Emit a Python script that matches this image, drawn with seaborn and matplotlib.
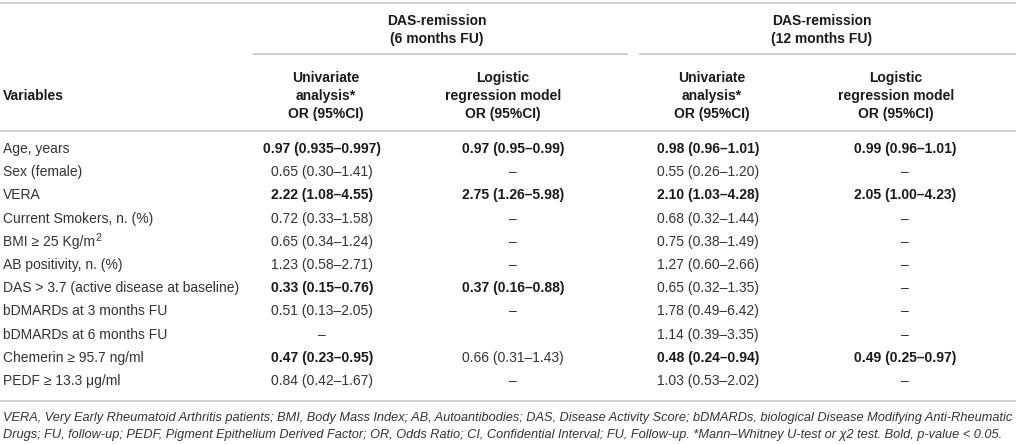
import seaborn as sns
import numpy as np
import pandas as pd
import matplotlib.pyplot as plt

# Table content
variables = ['Age, years', 'Sex (female)', 'VERA', 'Current Smokers, n. (%)',
             'BMI ≥ 25 Kg/m²', 'AB positivity, n. (%)',
             'DAS > 3.7 (active disease at baseline)', 'bDMARDs at 3 months FU',
             'bDMARDs at 6 months FU', 'Chemerin ≥ 95.7 ng/ml', 'PEDF ≥ 13.3 μg/ml']

univ_6 = ['0.97 (0.935–0.997)', '0.65 (0.30–1.41)', '2.22 (1.08–4.55)', '0.72 (0.33–1.58)',
          '0.65 (0.34–1.24)', '1.23 (0.58–2.71)', '0.33 (0.15–0.76)', '0.51 (0.13–2.05)',
          '–', '0.47 (0.23–0.95)', '0.84 (0.42–1.67)']
logit_6 = ['0.97 (0.95–0.99)', '–', '2.75 (1.26–5.98)', '–', '–', '–',
           '0.37 (0.16–0.88)', '–', '', '0.66 (0.31–1.43)', '–']
univ_12 = ['0.98 (0.96–1.01)', '0.55 (0.26–1.20)', '2.10 (1.03–4.28)', '0.68 (0.32–1.44)',
           '0.75 (0.38–1.49)', '1.27 (0.60–2.66)', '0.65 (0.32–1.35)', '1.78 (0.49–6.42)',
           '1.14 (0.39–3.35)', '0.48 (0.24–0.94)', '1.03 (0.53–2.02)']
logit_12 = ['0.99 (0.96–1.01)', '–', '2.05 (1.00–4.23)', '–', '–', '–', '–', '–', '–',
            '0.49 (0.25–0.97)', '–']

# bold = p-value < 0.05
bold_univ_6 = [1, 0, 1, 0, 0, 0, 1, 0, 0, 1, 0]
bold_logit_6 = [1, 0, 1, 0, 0, 0, 1, 0, 0, 0, 0]
bold_univ_12 = [1, 0, 1, 0, 0, 0, 0, 0, 0, 1, 0]
bold_logit_12 = [1, 0, 1, 0, 0, 0, 0, 0, 0, 1, 0]

group_titles = ['DAS-remission\n(6 months FU)', 'DAS-remission\n(12 months FU)']
col_titles = [['Univariate', 'analysis*', 'OR (95%CI)'],
              ['Logistic', 'regression model', 'OR (95%CI)'],
              ['Univariate', 'analysis*', 'OR (95%CI)'],
              ['Logistic', 'regression model', 'OR (95%CI)']]

footnote = ['VERA, Very Early Rheumatoid Arthritis patients; BMI, Body Mass Index; AB, Autoantibodies; '
            'DAS, Disease Activity Score; bDMARDs, biological Disease Modifying Anti-Rheumatic',
            'Drugs; FU, follow-up; PEDF, Pigment Epithelium Derived Factor; OR, Odds Ratio; CI, '
            'Confidential Interval; FU, Follow-up. *Mann–Whitney U-test or χ2 test. Bold, p-value < 0.05.']

df = pd.DataFrame({'Variables': variables, 'u6': univ_6, 'l6': logit_6,
                   'u12': univ_12, 'l12': logit_12})
bolds = {'u6': bold_univ_6, 'l6': bold_logit_6, 'u12': bold_univ_12, 'l12': bold_logit_12}

sns.set_theme(style='white')
plt.rcParams['font.family'] = ['Liberation Sans', 'DejaVu Sans']

fig = plt.figure(figsize=(10.16, 4.44), dpi=100)
ax = fig.add_axes([0, 0, 1, 1])
ax.set_xlim(0, 1016)
ax.set_ylim(444, 0)
ax.axis('off')

line_col = '#cccccc'
txt_col = '#333333'
bold_col = '#1a1a1a'
fs = 10

# layout (pixel coordinates)
head_x = [326, 503, 712, 896]
val_x = [322, 513, 708, 905]
row_y0, row_step = 149, 23.2

# rules
ax.hlines(3, 0, 1016, color=line_col, lw=1.3)
ax.hlines(54, 253, 628, color=line_col, lw=1.3)
ax.hlines(54, 639, 1016, color=line_col, lw=1.3)
ax.hlines(131, 0, 1016, color=line_col, lw=1.3)
ax.hlines(401, 0, 1016, color=line_col, lw=1.3)

# group headers
for gx, title in zip([437, 822], group_titles):
    for k, part in enumerate(title.split('\n')):
        ax.text(gx, 21 + k * 18.5, part, ha='center', va='center', fontsize=fs,
                fontweight='bold', color=bold_col)

# column headers
ax.text(3, 96, 'Variables', ha='left', va='center', fontsize=fs,
        fontweight='bold', color=bold_col)
for hx, lines in zip(head_x, col_titles):
    for k, part in enumerate(lines):
        ax.text(hx, 78 + k * 18, part, ha='center', va='center', fontsize=fs,
                fontweight='bold', color=bold_col)

# body
for i, row in df.iterrows():
    y = row_y0 + i * row_step + 4
    label = row['Variables']
    if label.endswith('²'):
        # draw a real raised superscript like the original
        t = ax.text(3, y, label[:-1], ha='left', va='baseline', fontsize=fs, color=txt_col)
        ax.annotate('2', xy=(1.0, 0.45), xycoords=t, ha='left', va='bottom',
                    fontsize=7.5, color=txt_col)
    else:
        ax.text(3, y, label, ha='left', va='baseline', fontsize=fs, color=txt_col)
    for cx, key in zip(val_x, ['u6', 'l6', 'u12', 'l12']):
        b = bolds[key][i]
        ax.text(cx, y, row[key], ha='center', va='baseline', fontsize=fs,
                fontweight='bold' if b else 'normal', color=bold_col if b else txt_col)

# footnote
for k, line in enumerate(footnote):
    ax.text(3, 418 + k * 17, line, ha='left', va='center', fontsize=9.2,
            style='italic', color=txt_col)

fig.savefig('out.png', dpi=100)
